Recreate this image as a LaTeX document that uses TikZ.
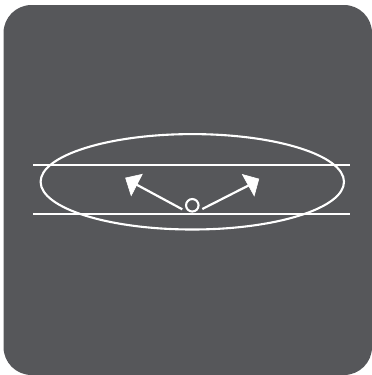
\documentclass[tikz,border=0pt]{standalone}
\definecolor{panel}{HTML}{56575A}
\tikzset{
  wline/.style={draw=white,line width=2.1pt},
  hline/.style={draw=white,line width=2.3pt},
  shaft/.style={draw=white,line width=2.2pt},
  head/.style={fill=white,draw=white,line width=0.6pt,line join=miter},
  ring/.style={circle,draw=white,line width=2.1pt,minimum size=12.5pt,inner sep=0pt}
}
\begin{document}
\begin{tikzpicture}[x=1pt,y=-1pt]
\useasboundingbox (0,0) rectangle (372,375);
\fill[panel,rounded corners=28pt] (3.5,5) rectangle (372,375);
\coordinate (l1a) at (33,165); \coordinate (l1b) at (350,165);
\coordinate (l2a) at (33,214.3); \coordinate (l2b) at (350,214.3);
\draw[hline] (l1a) -- (l1b);
\draw[hline] (l2a) -- (l2b);
\draw[wline] (192.3,181.8) ellipse [x radius=151.7,y radius=47.7];
\node[ring] (c) at (192.3,205.3) {};
\coordinate (s1) at (182.3,209.3); \coordinate (t1) at (136.5,184.6);
\coordinate (s2) at (202.3,209); \coordinate (t2) at (248.5,185.5);
\draw[shaft] (s1) -- (t1);
\draw[shaft] (s2) -- (t2);
\filldraw[head] (125.6,178) -- (142.2,174.3) -- (131.2,195.6) -- cycle;
\filldraw[head] (258.8,179) -- (242.4,174.5) -- (254.2,195.8) -- cycle;
\end{tikzpicture}
\end{document}
